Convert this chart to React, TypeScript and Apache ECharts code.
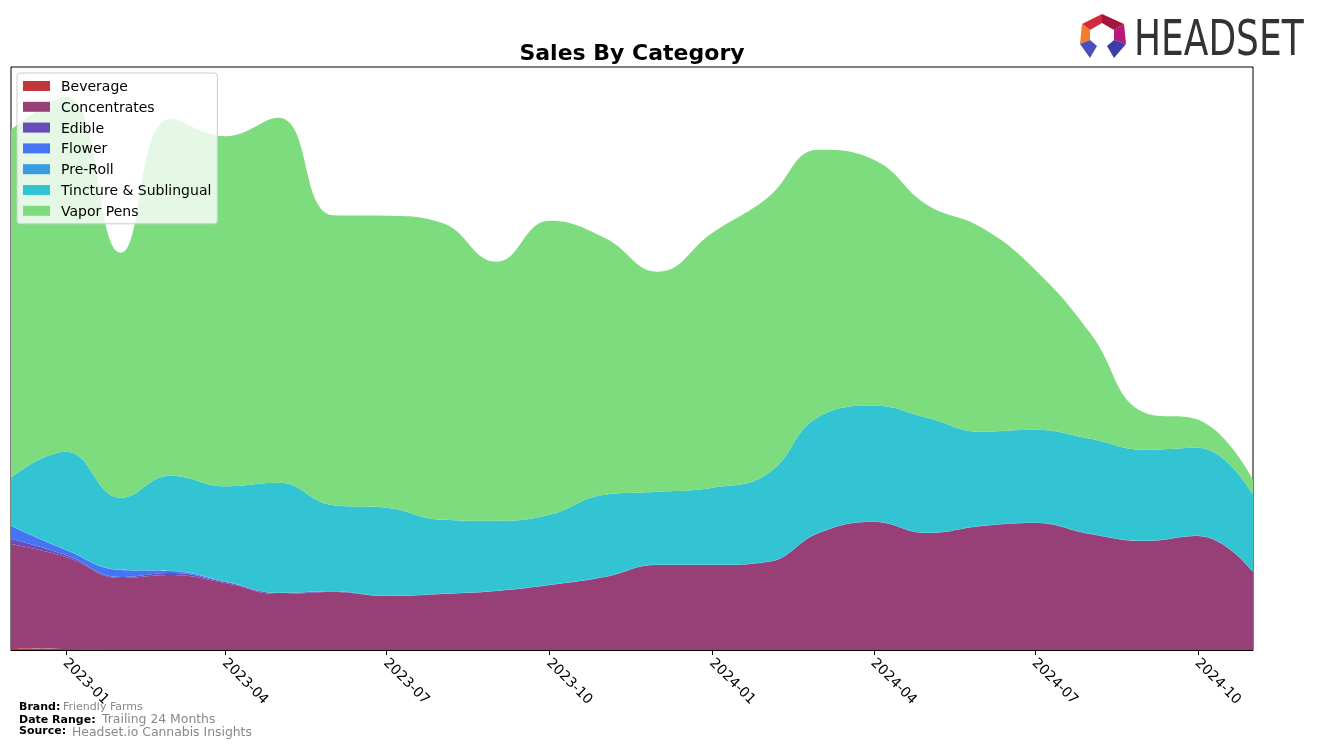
import React, { useEffect, useRef } from "react";
import * as echarts from "echarts";

const months = [
  "2022-12", "2023-01", "2023-02", "2023-03", "2023-04", "2023-05", "2023-06", "2023-07",
  "2023-08", "2023-09", "2023-10", "2023-11", "2023-12", "2024-01", "2024-02", "2024-03",
  "2024-04", "2024-05", "2024-06", "2024-07", "2024-08", "2024-09", "2024-10", "2024-11",
];

const beverage = [2, 1, 0, 0, 0, 0, 0, 0, 0, 0, 0, 0, 0, 0, 0, 0, 0, 0, 0, 0, 0, 0, 0, 0];
const concentrates = [104, 92, 72, 75, 67, 56, 58, 54, 56, 59, 65, 73, 85, 85, 88, 117, 128, 117, 124, 127, 116, 109, 114, 78];
const edible = [5, 2, 1, 2, 1, 1, 0.5, 0, 0, 0, 0, 0, 0, 0, 0, 0, 0, 0, 0, 0, 0, 0, 0, 0];
const flower = [13, 5, 7, 2, 0.5, 0, 0, 0, 0, 0, 0, 0, 0, 0, 0, 0, 0, 0, 0, 0, 0, 0, 0, 0];
const preRoll = [0.3, 0.3, 0.3, 0.3, 0.3, 0.3, 0.3, 0.3, 0.3, 0.3, 0.3, 0.3, 0.3, 0.3, 0.3, 0.3, 0.3, 0.3, 0.3, 0.3, 0.3, 0.3, 0.3, 0.3];
const tincture = [48, 98, 72, 95, 95, 110, 86, 88, 74, 70, 70, 82, 73, 77, 88, 116, 116, 115, 94, 93, 95, 91, 88, 77];
const vaporPens = [348, 355, 245, 357, 350, 365, 290, 292, 297, 259, 294, 257, 220, 255, 276, 267, 246, 213, 204, 160, 106, 37, 28, 15];

const tickMonths = ["2023-01", "2023-04", "2023-07", "2023-10", "2024-01", "2024-04", "2024-07", "2024-10"];

const seriesDefs = [
  { name: "Beverage", data: beverage, color: "#c0363a" },
  { name: "Concentrates", data: concentrates, color: "#964077" },
  { name: "Edible", data: edible, color: "#6a4cba" },
  { name: "Flower", data: flower, color: "#4575f5" },
  { name: "Pre-Roll", data: preRoll, color: "#399be2" },
  { name: "Tincture & Sublingual", data: tincture, color: "#33c4d3" },
  { name: "Vapor Pens", data: vaporPens, color: "#7ddc7d" },
];

function ts(m: string): number {
  const [y, mo] = m.split("-").map(Number);
  return Date.UTC(y, mo - 1, 1);
}

export default function App() {
  const ref = useRef<HTMLDivElement>(null);
  useEffect(() => {
    if (!ref.current) return;
    const chart = echarts.init(ref.current, null, { renderer: "svg" });
    const font = "DejaVu Sans";
    const tickVals = tickMonths.map(ts);
    const xMin = ts(months[0]);
    const xMax = ts(months[months.length - 1]);
    const option: any = {
      animation: false,
      useUTC: true,
      textStyle: { fontFamily: font },
      grid: {
        left: 11,
        top: 67,
        width: 1242,
        height: 583,
        show: true,
        borderColor: "#000",
        borderWidth: 1,
        backgroundColor: "transparent",
        containLabel: false,
      },
      xAxis: [
        {
          type: "time",
          min: xMin,
          max: xMax,
          show: true,
          splitLine: { show: false },
          axisLine: { show: false },
          axisTick: { show: false },
          axisLabel: { show: false },
        },
        {
          type: "value",
          position: "bottom",
          min: xMin,
          max: xMax,
          splitLine: { show: false },
          axisLine: { show: true, onZero: false, lineStyle: { color: "#000", width: 1 } },
          axisTick: {
            show: true,
            length: 5,
            lineStyle: { color: "#000" },
            customValues: tickVals,
          },
          axisLabel: {
            show: true,
            rotate: -45,
            margin: 10,
            color: "#000",
            fontSize: 14,
            fontFamily: font,
            customValues: tickVals,
            formatter: (v: number) => {
              const d = new Date(v);
              return `${d.getUTCFullYear()}-${String(d.getUTCMonth() + 1).padStart(2, "0")}`;
            },
          },
        },
      ],
      yAxis: {
        type: "value",
        min: 0,
        max: 583,
        show: false,
      },
      legend: {
        left: 17,
        top: 73,
        orient: "vertical",
        icon: "rect",
        itemWidth: 27,
        itemHeight: 10,
        itemGap: 6.8,
        padding: [6, 6, 6, 6],
        backgroundColor: "rgba(255,255,255,0.8)",
        borderColor: "#cccccc",
        borderWidth: 1,
        borderRadius: 3,
        textStyle: { fontFamily: font, fontSize: 14, color: "#000", lineHeight: 14, padding: [0, 0, 0, 6] },
        data: seriesDefs.map((s) => s.name),
      },
      series: seriesDefs.map((s) => ({
        name: s.name,
        type: "line",
        xAxisIndex: 0,
        stack: "total",
        smooth: 0.45,
        showSymbol: false,
        symbol: "none",
        lineStyle: { width: 0, color: s.color },
        itemStyle: { color: s.color },
        areaStyle: { color: s.color, opacity: 1 },
        data: months.map((m, i) => [ts(m), s.data[i]]),
      })),
      graphic: [
        {
          type: "text",
          style: {
            text: "Sales By Category",
            x: 632,
            y: 52,
            textAlign: "center",
            textVerticalAlign: "middle",
            font: `bold 22px "${font}"`,
            fill: "#000",
          },
        },
        { type: "text", style: { text: "Brand:", x: 19, y: 706.5, textVerticalAlign: "middle", font: `bold 11px "${font}"`, fill: "#000" } },
        { type: "text", style: { text: "Friendly Farms", x: 63, y: 706.3, textVerticalAlign: "middle", font: `11px "${font}"`, fill: "#888" } },
        { type: "text", style: { text: "Date Range:", x: 19, y: 719, textVerticalAlign: "middle", font: `bold 11px "${font}"`, fill: "#000" } },
        { type: "text", style: { text: "Trailing 24 Months", x: 102, y: 718.5, textVerticalAlign: "middle", font: `12.4px "${font}"`, fill: "#888" } },
        { type: "text", style: { text: "Source:", x: 19, y: 730.5, textVerticalAlign: "middle", font: `bold 11px "${font}"`, fill: "#000" } },
        { type: "text", style: { text: "Headset.io Cannabis Insights", x: 72, y: 731.2, textVerticalAlign: "middle", font: `12.4px "${font}"`, fill: "#888" } },
        { type: "polygon", shape: { points: [[1102, 14], [1082, 24], [1090, 30], [1102, 23]] }, style: { fill: "#d42a3c" } },
        { type: "polygon", shape: { points: [[1102, 14], [1124, 24], [1114, 30], [1102, 23]] }, style: { fill: "#a3173c" } },
        { type: "polygon", shape: { points: [[1082, 24], [1090, 30], [1090, 40], [1080, 44]] }, style: { fill: "#f47b2a" } },
        { type: "polygon", shape: { points: [[1124, 24], [1114, 30], [1114, 40], [1126, 44]] }, style: { fill: "#b8187a" } },
        { type: "polygon", shape: { points: [[1080, 44], [1090, 40], [1097, 46], [1090, 58]] }, style: { fill: "#4a4fc0" } },
        { type: "polygon", shape: { points: [[1126, 44], [1114, 40], [1107, 46], [1114, 58]] }, style: { fill: "#3a3ea8" } },
        {
          type: "text",
          x: 1134,
          y: 38,
          scaleX: 0.72,
          style: {
            text: "HEADSET",
            x: 0,
            y: 0,
            textVerticalAlign: "middle",
            font: `50px "${font}"`,
            fill: "#333333",
          },
        },
      ],
    };
    chart.setOption(option);
    return () => chart.dispose();
  }, []);
  return <div ref={ref} style={{ position: "fixed", left: 0, top: 0, width: 1317, height: 746 }} />;
}
